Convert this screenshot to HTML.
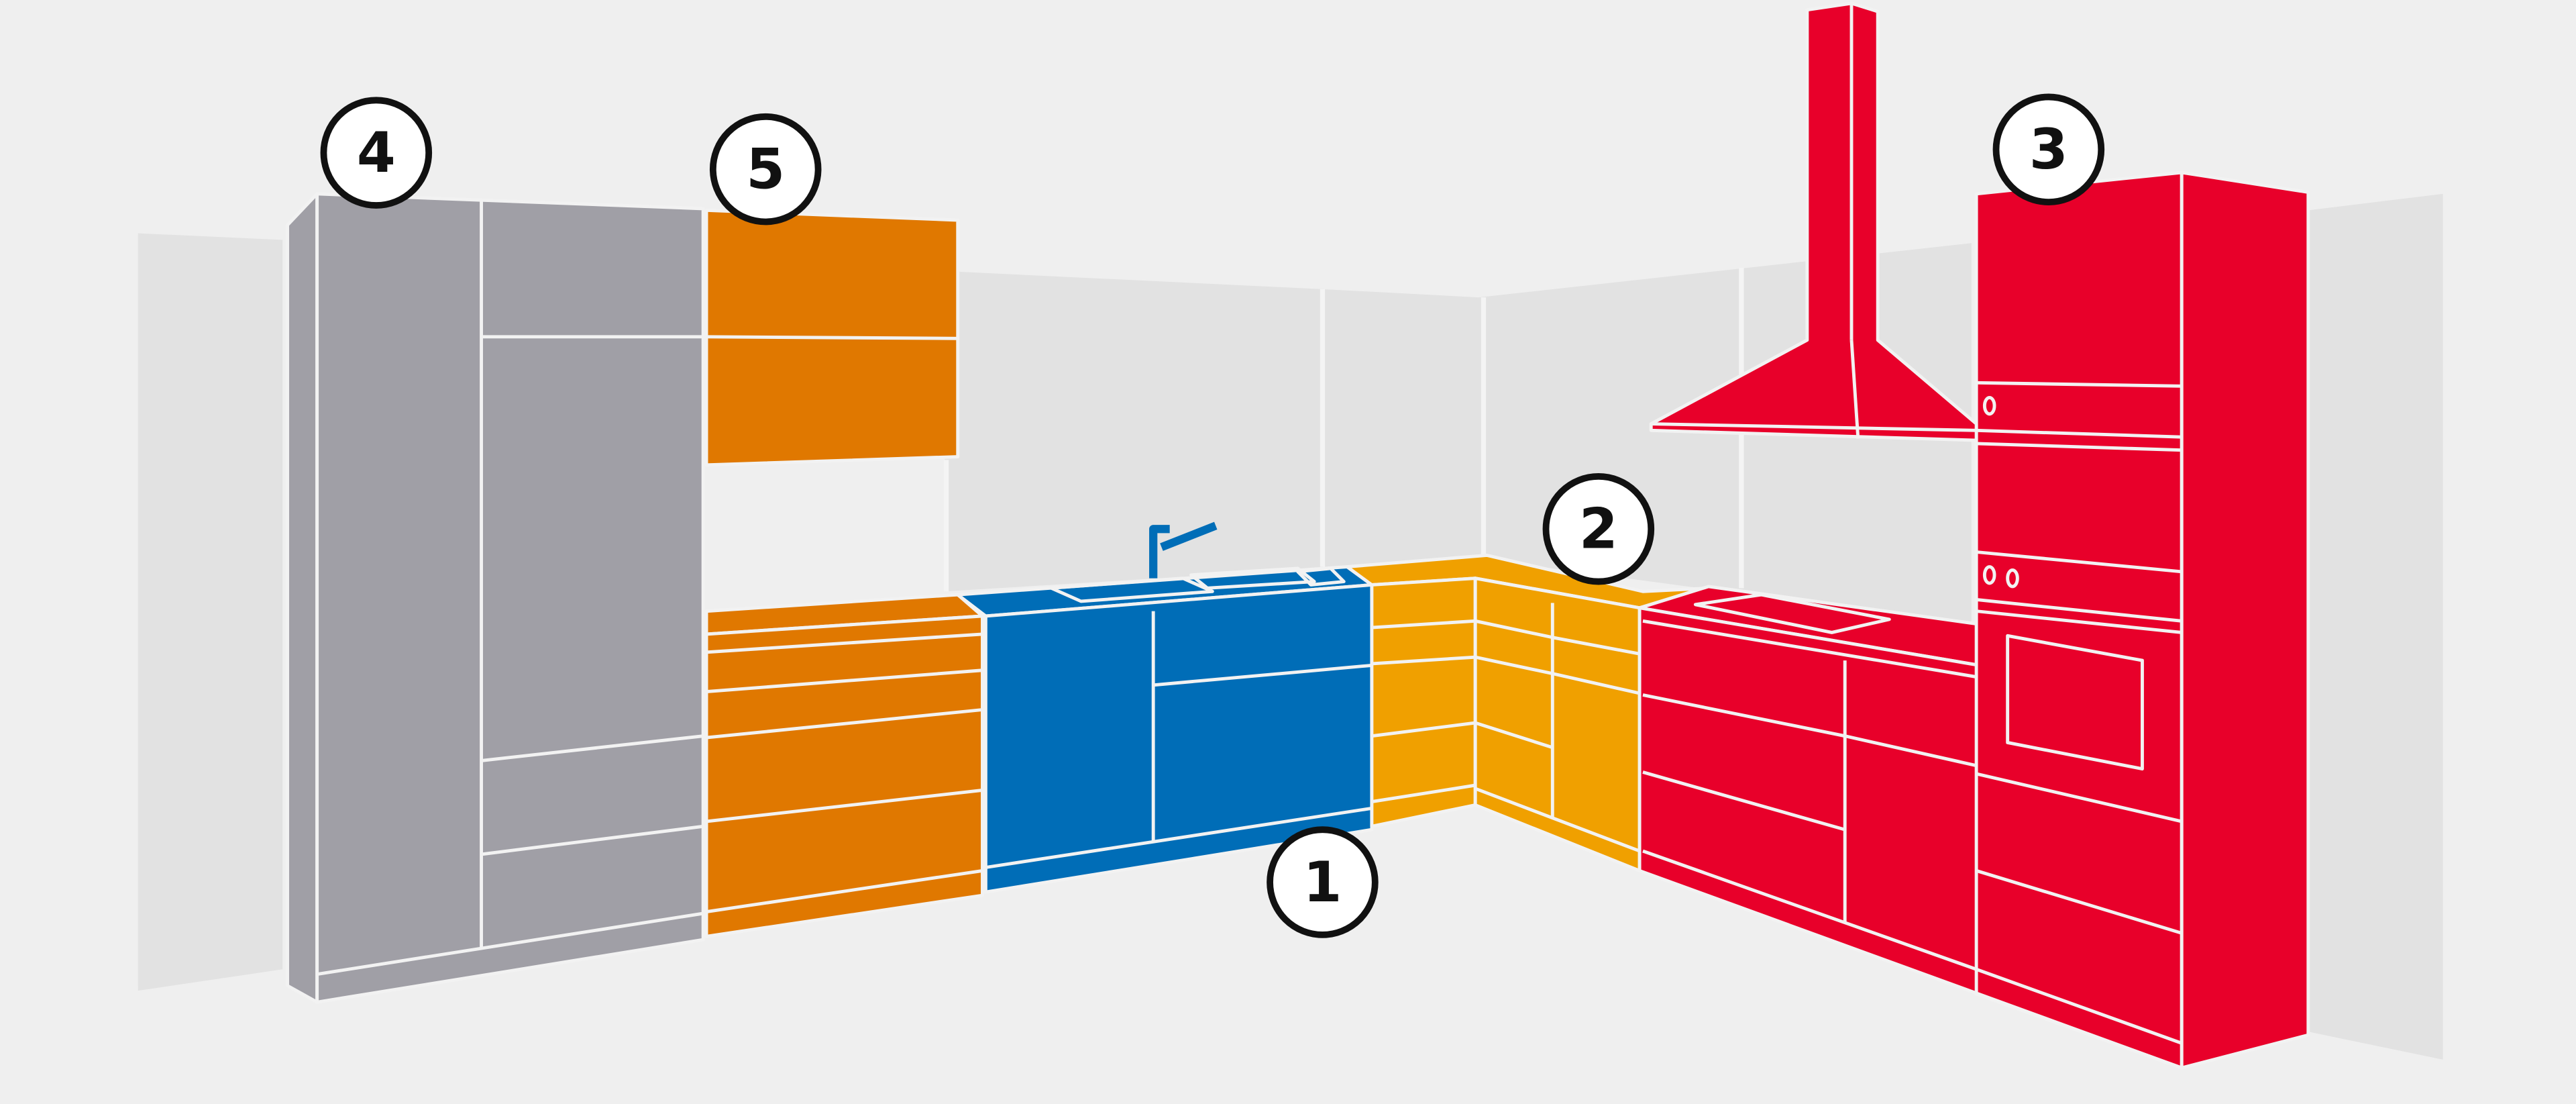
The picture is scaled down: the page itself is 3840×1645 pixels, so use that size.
<!DOCTYPE html>
<html><head><meta charset="utf-8"><style>
html,body{margin:0;padding:0;background:#efefef;width:3840px;height:1645px;overflow:hidden}
svg{display:block}
text{font-family:"DejaVu Sans","Liberation Sans",sans-serif;font-weight:bold;font-size:34px;text-anchor:middle;dominant-baseline:central}
</style></head><body>
<svg width="3840" height="1645" viewBox="0 0 1568 672" preserveAspectRatio="none">
<rect width="1568" height="672" fill="#efefef"/>
<polygon points="84,142 172,146 172,590 84,603" fill="#e2e2e2"/>
<polygon points="575,165 805,176 900,181 900,340 575,360" fill="#e2e2e2"/>
<polygon points="900,181 1200,148 1200,380 900,340" fill="#e2e2e2"/>
<g stroke="#f4f4f4" stroke-width="3" fill="none">
<line x1="805" y1="176" x2="805" y2="345"/><line x1="1060" y1="163" x2="1060" y2="358"/><line x1="903" y1="181" x2="903" y2="340"/>
</g>
<polygon points="1405,128 1487,118 1487,645 1405,628" fill="#e2e2e2"/>
<g stroke="#f2f2f2" stroke-width="2" stroke-linejoin="round">
<polygon points="175,137 193,118 193,610 175,600" fill="#a09fa6"/>
<polygon points="193,118 428,127 428,572 193,610" fill="#a09fa6"/>
<line x1="293" y1="122" x2="293" y2="577"/><line x1="293" y1="205" x2="428" y2="205"/>
<line x1="293" y1="463" x2="428" y2="448"/><line x1="293" y1="520" x2="428" y2="503"/>
<line x1="193" y1="593" x2="428" y2="556"/>
<polygon points="430,128 583,134 583,278 430,283" fill="#e07800"/>
<line x1="430" y1="205" x2="583" y2="206"/>
<line x1="576" y1="280" x2="576" y2="360" stroke="#f4f4f4" stroke-width="3"/>
<polygon points="430,372 583,362 598,375 430,386" fill="#e07800"/>
<polygon points="430,386 598,375 598,545 430,570" fill="#e07800"/>
<line x1="430" y1="397" x2="598" y2="386"/><line x1="430" y1="421" x2="598" y2="408"/>
<line x1="430" y1="449" x2="598" y2="432"/><line x1="430" y1="500" x2="598" y2="481"/>
<line x1="430" y1="555" x2="598" y2="530"/>
<polygon points="583,362 820,345 835,356 600,375" fill="#006db7"/>
<polygon points="600,375 835,356 835,505 600,543" fill="#006db7"/>
<line x1="702" y1="372" x2="702" y2="512"/><line x1="702" y1="417" x2="835" y2="405"/>
<line x1="600" y1="528" x2="835" y2="492"/>
<polygon points="640,358 720,352 738,360 658,366" fill="none"/>
<polygon points="725,350 790,346 800,354 735,358" fill="none"/>
<polygon points="790,348 810,346 818,354 798,356" fill="none"/>
<polygon points="820,345 905,338 1000,360 1040,358 998,370 898,352 835,356" fill="#f0a000"/>
<polygon points="835,356 898,352 898,490 835,503" fill="#f0a000"/>
<polygon points="898,352 998,370 998,530 898,490" fill="#f0a000"/>
<line x1="835" y1="382" x2="898" y2="378"/><line x1="835" y1="404" x2="898" y2="400"/>
<line x1="835" y1="448" x2="898" y2="440"/><line x1="835" y1="488" x2="898" y2="478"/>
<line x1="898" y1="378" x2="945" y2="388"/><line x1="898" y1="400" x2="945" y2="410"/>
<line x1="898" y1="440" x2="945" y2="455"/><line x1="945" y1="367" x2="945" y2="498"/>
<line x1="945" y1="388" x2="998" y2="398"/><line x1="945" y1="410" x2="998" y2="422"/>
<line x1="998" y1="518" x2="898" y2="480"/>
<polygon points="998,370 1040,357 1205,380 1205,405" fill="#e8002a"/>
<polygon points="998,370 1205,405 1205,605 998,530" fill="#e8002a" stroke="none"/>
<line x1="998" y1="370" x2="1205" y2="405"/><line x1="998" y1="370" x2="998" y2="530"/>
<polygon points="1032,368 1072,362 1150,377 1115,385" fill="none"/>
<line x1="1000" y1="378" x2="1203" y2="412"/>
<line x1="1123" y1="402" x2="1123" y2="562"/>
<line x1="1000" y1="423" x2="1123" y2="448"/><line x1="1000" y1="470" x2="1123" y2="505"/>
<line x1="1123" y1="448" x2="1203" y2="466"/>
<line x1="1000" y1="518" x2="1203" y2="590"/>
<polygon points="1203,118 1328,105 1328,650 1203,605" fill="#e8002a"/>
<line x1="998" y1="530" x2="1328" y2="650"/>
<polygon points="1328,105 1405,117 1405,630 1328,650" fill="#e8002a"/>
<line x1="1203" y1="233" x2="1328" y2="235"/><line x1="1203" y1="262" x2="1328" y2="266"/>
<line x1="1203" y1="270" x2="1328" y2="274"/>
<line x1="1203" y1="336" x2="1328" y2="348"/><line x1="1203" y1="365" x2="1328" y2="378"/>
<line x1="1203" y1="372" x2="1328" y2="385"/>
<polygon points="1222,387 1304,402 1304,468 1222,452" fill="none"/>
<line x1="1203" y1="471" x2="1328" y2="500"/><line x1="1203" y1="530" x2="1328" y2="568"/>
<line x1="1203" y1="590" x2="1328" y2="635"/>
<ellipse cx="1211" cy="247" rx="3" ry="5" fill="none"/>
<ellipse cx="1211" cy="350" rx="3" ry="5" fill="none"/><ellipse cx="1225" cy="352" rx="3" ry="5" fill="none"/>
<polygon points="1100,6 1127,2 1143,7 1143,207 1203,258 1203,268 1005,262 1005,258 1100,207" fill="#e8002a"/>
<line x1="1127" y1="2" x2="1127" y2="207"/><line x1="1127" y1="207" x2="1131" y2="267"/>
<line x1="1005" y1="258" x2="1203" y2="262"/>
<path d="M702,352 L702,322 L712,322 M707,333 L740,320" stroke="#006db7" stroke-width="5" fill="none"/>
</g>
<g stroke="#111" stroke-width="4" fill="#fff">
<circle cx="229" cy="93" r="32"/><circle cx="466" cy="103" r="32"/><circle cx="1247" cy="91" r="32"/>
<circle cx="973" cy="322" r="32"/><circle cx="805" cy="537" r="32"/>
</g>
<g fill="#111">
<text x="229" y="93">4</text><text x="466" y="103">5</text><text x="1247" y="91">3</text>
<text x="973" y="322">2</text><text x="805" y="537">1</text>
</g>
</svg>
</body></html>
